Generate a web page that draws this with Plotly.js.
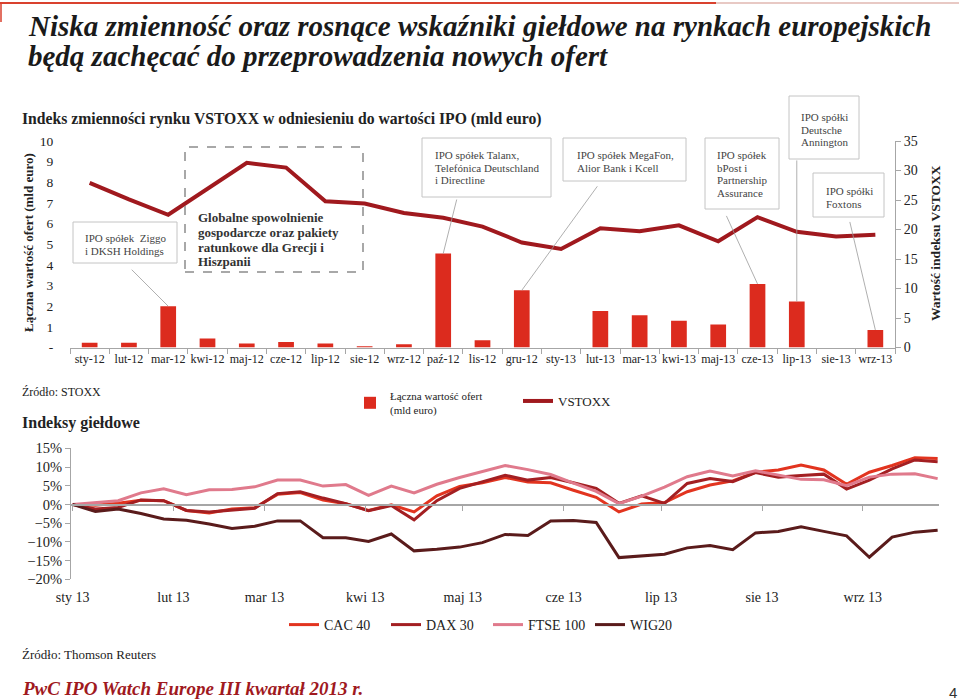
<!DOCTYPE html>
<html>
<head>
<meta charset="utf-8">
<script src="https://cdn.plot.ly/plotly-3.0.1.min.js"></script>
<style>html,body{margin:0;padding:0;background:#fff;}#chart{width:959px;height:700px;}</style>
</head>
<body>
<div id="chart"></div>
<script>
// ---------- DATA ----------
const months = ['sty-12','lut-12','mar-12','kwi-12','maj-12','cze-12','lip-12','sie-12','wrz-12','paź-12','lis-12','gru-12','sty-13','lut-13','mar-13','kwi-13','maj-13','cze-13','lip-13','sie-13','wrz-13'];
const ipoValue = [0.23,0.23,2.0,0.44,0.19,0.27,0.19,0.06,0.16,4.55,0.35,2.77,0,1.77,1.56,1.29,1.11,3.08,2.23,0,0.85];
const vstoxx = [27.9,25.1,22.5,26.9,31.3,30.5,24.8,24.4,22.8,22.0,20.5,17.8,16.7,20.2,19.7,20.7,18.0,22.1,19.6,18.8,19.1];
const leftTickVals = [0,1,2,3,4,5,6,7,8,9,10];
const leftTickText = ['-','1','2','3','4','5','6','7','8','9','10'];

const weeks = ['2013-01-01','2013-01-08','2013-01-15','2013-01-22','2013-01-29','2013-02-05','2013-02-12','2013-02-19','2013-02-26','2013-03-05','2013-03-12','2013-03-19','2013-03-26','2013-04-02','2013-04-09','2013-04-16','2013-04-23','2013-04-30','2013-05-07','2013-05-14','2013-05-21','2013-05-28','2013-06-04','2013-06-11','2013-06-18','2013-06-25','2013-07-02','2013-07-09','2013-07-16','2013-07-23','2013-07-30','2013-08-06','2013-08-13','2013-08-20','2013-08-27','2013-09-03','2013-09-10','2013-09-17','2013-09-24'];
const cac40 = [0,-0.2,0.3,1.1,1.0,-1.6,-2.3,-1.2,-0.9,2.7,3.2,1.2,0.2,-1.6,-0.1,-2.0,2.3,4.8,5.8,7.2,6.0,5.8,3.8,1.9,-2.0,0.1,0.5,3.4,5.2,6.3,8.6,9.2,10.5,9.2,5.4,8.6,10.4,12.5,12.3];
const dax30 = [0,-1.2,-0.8,1.2,1.0,-1.6,-2.0,-1.5,-1.0,2.9,3.4,1.7,0.2,-1.7,-0.3,-4.1,1.0,4.3,6.1,7.8,6.5,7.2,5.8,4.3,0.3,2.3,0.3,5.6,6.9,6.1,8.5,7.3,7.7,8.1,4.1,6.5,9.5,11.9,11.4];
const ftse100 = [0,0.5,1.0,3.1,4.2,2.6,3.9,4.0,4.7,6.5,6.5,4.9,5.3,2.4,4.9,3.1,5.4,7.2,8.7,10.4,9.3,8.0,5.7,3.5,0.2,2.2,4.6,7.4,8.9,7.6,9.0,7.9,6.7,6.6,5.0,7.3,8.1,8.2,6.9];
const wig20 = [0,-1.9,-1.2,-2.4,-3.9,-4.2,-5.2,-6.4,-5.8,-4.4,-4.4,-8.9,-8.9,-9.9,-7.9,-12.4,-12.0,-11.4,-10.2,-8.0,-8.3,-4.4,-4.3,-4.8,-14.2,-13.8,-13.3,-11.6,-11.0,-12.1,-7.6,-7.2,-6.0,-7.2,-8.4,-14.1,-8.7,-7.4,-6.9];
const monthTicks = ['2013-01-01','2013-02-01','2013-03-01','2013-04-01','2013-05-01','2013-06-01','2013-07-01','2013-08-01','2013-09-01'];
const monthLabels = ['sty 13','lut 13','mar 13','kwi 13','maj 13','cze 13','lip 13','sie 13','wrz 13'];

// ---------- HELPERS ----------
const W = 959, H = 700;
const X = px => px / W;
const Y = py => 1 - py / H;
const SERIF = 'Liberation Serif, Times New Roman, serif';
const RED = '#dc2b1e', DARKRED = '#a0191e';

const annotations = [];
const shapes = [];

function txt(px, py, text, size, opts) {
  opts = opts || {};
  annotations.push({
    xref: 'paper', yref: 'paper', x: X(px), y: Y(py), text: text,
    xanchor: opts.xanchor || 'left', yanchor: 'middle', showarrow: false,
    font: {family: opts.family || SERIF, size: size, color: opts.color || '#222'},
    textangle: opts.angle || 0
  });
}

function box(x0, y0, x1, y1, lines, tx, ty, opts) {
  opts = opts || {};
  shapes.push({type: 'rect', xref: 'paper', yref: 'paper', x0: X(x0), x1: X(x1), y0: Y(y1), y1: Y(y0),
    line: {color: opts.lineColor || '#c4c4c4', width: opts.lineWidth || 1, dash: opts.dash || 'solid'},
    fillcolor: opts.fill || 'white', layer: 'above'});
  lines.forEach((l, i) => txt(tx, ty[i], opts.bold ? '<b>' + l + '</b>' : l, opts.size || 11, {color: opts.color || '#444'}));
}

function pointer(cat, val, ax, ay) {
  annotations.push({xref: 'x', yref: 'y', x: cat, y: val, text: ' ', font: {size: 1},
    showarrow: true, arrowhead: 0, arrowwidth: 0.8, arrowcolor: '#9a9a9a', ax: ax, ay: ay, standoff: 0, startstandoff: 0});
}

// ---------- TEXTS ----------
txt(26, 26, '<b><i>Niska zmienność oraz rosnące wskaźniki giełdowe na rynkach europejskich</i></b>', 29, {color: '#1a1a1a'});
txt(26, 56, '<b><i>będą zachęcać do przeprowadzenia nowych ofert</i></b>', 29, {color: '#1a1a1a'});
txt(20, 119, '<b>Indeks zmienności rynku VSTOXX w odniesieniu do wartości IPO (mld euro)</b>', 15.7);
txt(28, 243, '<b>Łączna wartość ofert (mld euro)</b>', 13, {xanchor: 'center', angle: -90});
txt(935, 243, '<b>Wartość indeksu VSTOXX</b>', 13.5, {xanchor: 'center', angle: -90});
txt(20, 392, 'Źródło: STOXX', 12);
txt(20, 423, '<b>Indeksy giełdowe</b>', 16);
txt(20, 654, 'Źródło: Thomson Reuters', 13);
txt(20, 688, '<b><i>PwC IPO Watch Europe III kwartał 2013 r.</i></b>', 19, {color: '#a0191e'});
txt(953, 692, '4', 15, {xanchor: 'center', family: 'Liberation Sans, Arial, sans-serif', color: '#333'});

// top rule
shapes.push({type: 'line', xref: 'paper', yref: 'paper', x0: X(0), x1: X(716), y0: Y(3), y1: Y(3), line: {color: '#d9412e', width: 2}});
shapes.push({type: 'line', xref: 'paper', yref: 'paper', x0: X(716), x1: X(959), y0: Y(3), y1: Y(3), line: {color: '#e8c9c4', width: 2}});
shapes.push({type: 'line', xref: 'paper', yref: 'paper', x0: X(1), x1: X(1), y0: Y(3), y1: Y(22), line: {color: '#d9412e', width: 1.5}});

// annotation boxes
box(73, 222, 177, 263, ['IPO spółek  Ziggo', 'i DKSH Holdings'], 83, [238, 251]);
box(185, 147, 363, 272, ['Globalne spowolnienie', 'gospodarcze oraz pakiety', 'ratunkowe dla Grecji i', 'Hiszpanii'], 196, [218, 232.5, 247, 261.5],
    {dash: 'dash', lineColor: '#8c8c8c', lineWidth: 1.5, fill: 'rgba(0,0,0,0)', bold: true, size: 13, color: '#333'});
box(422, 138, 551, 197, ['IPO spółek Talanx,', 'Telefónica Deutschland', 'i Directline'], 433, [155, 167.5, 180]);
box(563, 138, 686, 181, ['IPO spółek MegaFon,', 'Alior Bank i Kcell'], 575, [155, 167.5]);
box(705, 138, 779, 209, ['IPO spółek', 'bPost i', 'Partnership', 'Assurance'], 715, [155, 167.5, 180, 192.5]);
box(789, 96, 859, 159, ['IPO spółki', 'Deutsche', 'Annington'], 799, [117, 129.5, 142]);
box(813, 173, 884, 217, ['IPO spółki', 'Foxtons'], 824, [191, 203.5]);

pointer('mar-12', ipoValue[2], -38, -38);
pointer('paź-12', ipoValue[9], 14, -56);
pointer('gru-12', ipoValue[11], 77, -106);
pointer('cze-13', ipoValue[17], -32, -70);
pointer('lip-13', ipoValue[18], 0, -143);
pointer('wrz-13', ipoValue[20], -26, -110);

// ---------- TRACES ----------
const traces = [
  {type: 'bar', x: months, y: ipoValue, name: 'Łączna wartość ofert<br>(mld euro)', marker: {color: RED},
   width: 0.4, xaxis: 'x', yaxis: 'y', legend: 'legend'},
  {type: 'scatter', mode: 'lines', x: months, y: vstoxx, name: 'VSTOXX', line: {color: DARKRED, width: 4},
   xaxis: 'x', yaxis: 'y2', legend: 'legend2'},
  {type: 'scatter', mode: 'lines', x: weeks, y: cac40, name: 'CAC 40', line: {color: '#e2341f', width: 3}, xaxis: 'x3', yaxis: 'y3', legend: 'legend3'},
  {type: 'scatter', mode: 'lines', x: weeks, y: dax30, name: 'DAX 30', line: {color: '#a31f22', width: 3}, xaxis: 'x3', yaxis: 'y3', legend: 'legend3'},
  {type: 'scatter', mode: 'lines', x: weeks, y: ftse100, name: 'FTSE 100', line: {color: '#e07a8c', width: 3}, xaxis: 'x3', yaxis: 'y3', legend: 'legend3'},
  {type: 'scatter', mode: 'lines', x: weeks, y: wig20, name: 'WIG20', line: {color: '#5a1b1b', width: 3}, xaxis: 'x3', yaxis: 'y3', legend: 'legend3'},
  {type: 'scatter', mode: 'lines', x: [], y: [], xaxis: 'x4', yaxis: 'y3', showlegend: false, hoverinfo: 'skip'}
];

const dateRange = ['2012-12-31 12:00', '2013-09-24 10:00'];

const layout = {
  width: W, height: H, margin: {l: 0, r: 0, t: 0, b: 0},
  paper_bgcolor: 'white', plot_bgcolor: 'rgba(0,0,0,0)',
  font: {family: SERIF, color: '#222'},
  xaxis: {domain: [X(70), X(895)], anchor: 'y', type: 'category', range: [-0.5, 20.5], tickangle: 0,
    showline: true, linecolor: '#a6a6a6', linewidth: 1, ticks: 'outside', tickson: 'boundaries', ticklen: 5, tickcolor: '#a6a6a6',
    showgrid: false, zeroline: false, tickfont: {family: SERIF, size: 12, color: '#222'}},
  yaxis: {domain: [Y(347.5), Y(141)], anchor: 'x', range: [0, 10], tickvals: leftTickVals, ticktext: leftTickText,
    showline: false, showgrid: false, zeroline: false, ticks: 'outside', ticklen: 13, tickcolor: 'rgba(0,0,0,0)',
    tickfont: {family: SERIF, size: 13.5, color: '#222'}},
  yaxis2: {overlaying: 'y', side: 'right', anchor: 'x', range: [0, 35], dtick: 5, tick0: 0,
    showline: true, linecolor: '#a6a6a6', ticks: 'outside', ticklen: 5, tickcolor: '#a6a6a6',
    showgrid: false, zeroline: false, tickfont: {family: SERIF, size: 14, color: '#222'}},
  xaxis3: {domain: [X(71), X(939)], anchor: 'y3', type: 'date', range: dateRange, tickangle: 0,
    tickvals: monthTicks, ticktext: monthLabels, showline: false, showgrid: false, zeroline: false,
    ticks: 'outside', ticklen: 5, tickcolor: 'rgba(0,0,0,0)', tickfont: {family: SERIF, size: 14, color: '#222'}},
  xaxis4: {overlaying: 'x3', anchor: 'free', position: Y(504.4), type: 'date', range: dateRange,
    tickvals: monthTicks, showticklabels: false, showline: true, linecolor: '#a6a6a6', linewidth: 1.2,
    ticks: 'outside', ticklen: 5, tickcolor: '#a6a6a6', showgrid: false, zeroline: false},
  yaxis3: {domain: [Y(579.3), Y(448.3)], anchor: 'x3', range: [-20, 15], dtick: 5, tick0: 0, ticksuffix: '%',
    showline: true, linecolor: '#a6a6a6', ticks: 'outside', ticklen: 5, tickcolor: '#a6a6a6',
    showgrid: false, zeroline: false, tickfont: {family: SERIF, size: 14.5, color: '#222'}},
  showlegend: true,
  legend: {x: X(350), y: Y(403), xanchor: 'left', yanchor: 'middle', orientation: 'v', bgcolor: 'rgba(0,0,0,0)',
    font: {family: SERIF, size: 11, color: '#222'}},
  legend2: {x: X(518), y: Y(401), xanchor: 'left', yanchor: 'middle', orientation: 'v', bgcolor: 'rgba(0,0,0,0)',
    font: {family: SERIF, size: 13, color: '#222'}},
  legend3: {x: X(284), y: Y(625), xanchor: 'left', yanchor: 'middle', orientation: 'h', bgcolor: 'rgba(0,0,0,0)',
    entrywidth: 57, entrywidthmode: 'pixels',
    font: {family: SERIF, size: 14, color: '#222'}},
  annotations: annotations,
  shapes: shapes
};

Plotly.newPlot('chart', traces, layout, {staticPlot: true, displayModeBar: false});
</script>
</body>
</html>
